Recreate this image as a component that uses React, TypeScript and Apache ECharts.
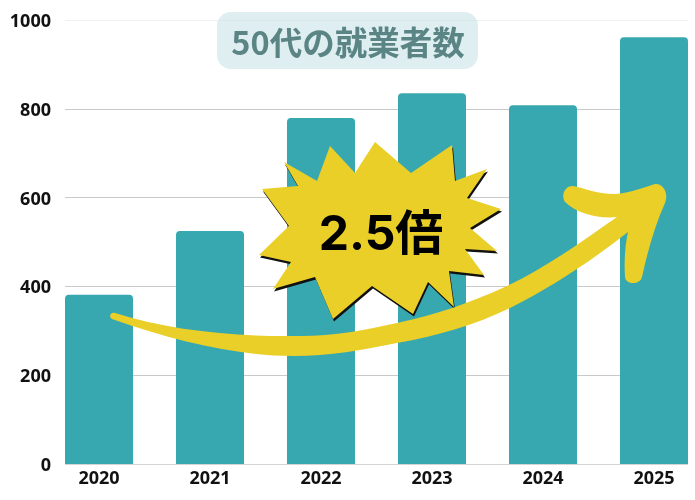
import React, { useEffect, useRef } from 'react';
import * as echarts from 'echarts';

const years = ['2020', '2021', '2022', '2023', '2024', '2025'];
const workers = [381, 525, 779, 835, 808, 961];
const titleText = '50代の就業者数';
const badgeText = '2.5倍';

// burst outline, page pixels
const burstPoints: number[][] = [
  [284, 162], [317, 181], [330, 146], [355, 173], [375, 142], [411, 173], [452, 145], [455, 181],
  [487, 169], [467, 198], [501, 209], [470, 228], [497, 251], [465, 249], [484, 275], [449, 271],
  [454, 307], [428, 282], [413, 314], [372, 286], [333, 319], [315, 277], [273, 289], [291, 262],
  [259, 255], [289, 226], [262, 189], [298, 186],
];

const arrowPath =
  'M115 313 C170 331 240 337 300 336 C335 336 365 330 397 323 C435 315 470 303 507 286 C545 268 580 243 617 217 ' +
  'C600 219 577 214 565 202 C561 196 564 186 573 186 C585 188 595 194 615 194 C630 193 645 187 655 184 ' +
  'C663 183 669 193 665 203 C655 225 648 250 642 277 C640 285 626 285 625 277 C624 262 625 245 628 232 ' +
  'C590 262 550 288 510 308 C475 325 437 336 397 343 C362 350 330 356 293 356 C240 356 177 342 112 319 C108 316 111 312 115 313 Z';

echarts.graphic.registerShape('arrow', echarts.graphic.extendPath(arrowPath, {}));

export default function App() {
  const chartRef = useRef<HTMLDivElement | null>(null);

  useEffect(() => {
    if (!chartRef.current) return;
    const chart = echarts.init(chartRef.current, null, { renderer: 'svg' });
    const labelFont = { fontFamily: '"Open Sans", sans-serif', fontWeight: 700, color: '#111', fontSize: 18 };
    chart.setOption({
      animation: false,
      // grid 0 carries the value axis, grid 1 is wider so the bars sit flush with the gridline ends
      grid: [
        { left: 65, width: 623, top: 20, bottom: 36, outerBoundsMode: 'none' },
        { left: 43.5, width: 666, top: 20, bottom: 36, outerBoundsMode: 'none' },
      ],
      xAxis: [
        { type: 'category', gridIndex: 0, data: years, show: false },
        {
          type: 'category',
          gridIndex: 1,
          data: years,
          axisTick: { show: false },
          axisLine: { show: false },
          axisLabel: { ...labelFont, margin: 4 },
        },
      ],
      yAxis: [
        {
          type: 'value',
          gridIndex: 0,
          min: 0,
          max: 1000,
          interval: 200,
          axisLine: { show: false },
          axisTick: { show: false },
          axisLabel: { ...labelFont, margin: 14, formatter: (v: number) => String(v) },
          splitLine: {
            lineStyle: { color: ['#d4d4d4', '#c9c9c9', '#c9c9c9', '#c9c9c9', '#c9c9c9', '#f0f0f0'], width: 1 },
          },
        },
        { type: 'value', gridIndex: 1, min: 0, max: 1000, show: false },
      ],
      series: [
        {
          type: 'bar',
          xAxisIndex: 1,
          yAxisIndex: 1,
          data: workers,
          barWidth: 68,
          itemStyle: { color: '#38a8b0', borderRadius: [4, 4, 0, 0] },
        },
      ],
      graphic: [
        {
          type: 'group',
          children: [
            {
              type: 'polygon',
              x: 1,
              y: 2.5,
              z: 10,
              shape: { points: burstPoints },
              style: { fill: '#111' },
            },
            {
              type: 'polygon',
              z: 11,
              shape: { points: burstPoints },
              style: { fill: '#e9cf27' },
            },
            {
              type: 'text',
              z: 12,
              x: 381,
              y: 232,
              style: {
                text: badgeText,
                fill: '#000',
                fontFamily: 'Inter, "Noto Sans CJK JP", sans-serif',
                fontWeight: 700,
                fontSize: 48,
                textAlign: 'center',
                textVerticalAlign: 'middle',
              },
            },
            { type: 'arrow', z: 13, x: 0, y: 0, style: { fill: '#e9cf27' } },
            {
              type: 'rect',
              z: 14,
              shape: { x: 217, y: 12, width: 261, height: 57, r: 14 },
              style: { fill: 'rgba(190, 222, 228, 0.5)' },
            },
            {
              type: 'text',
              z: 15,
              x: 348,
              y: 40,
              style: {
                text: titleText,
                fill: '#5b8585',
                fontFamily: '"Noto Sans CJK JP", sans-serif',
                fontWeight: 700,
                fontSize: 32.5,
                textAlign: 'center',
                textVerticalAlign: 'middle',
              },
            },
          ],
        },
      ],
    });
    return () => chart.dispose();
  }, []);

  return <div ref={chartRef} style={{ position: 'fixed', left: 0, top: 0, width: 695, height: 500 }} />;
}
